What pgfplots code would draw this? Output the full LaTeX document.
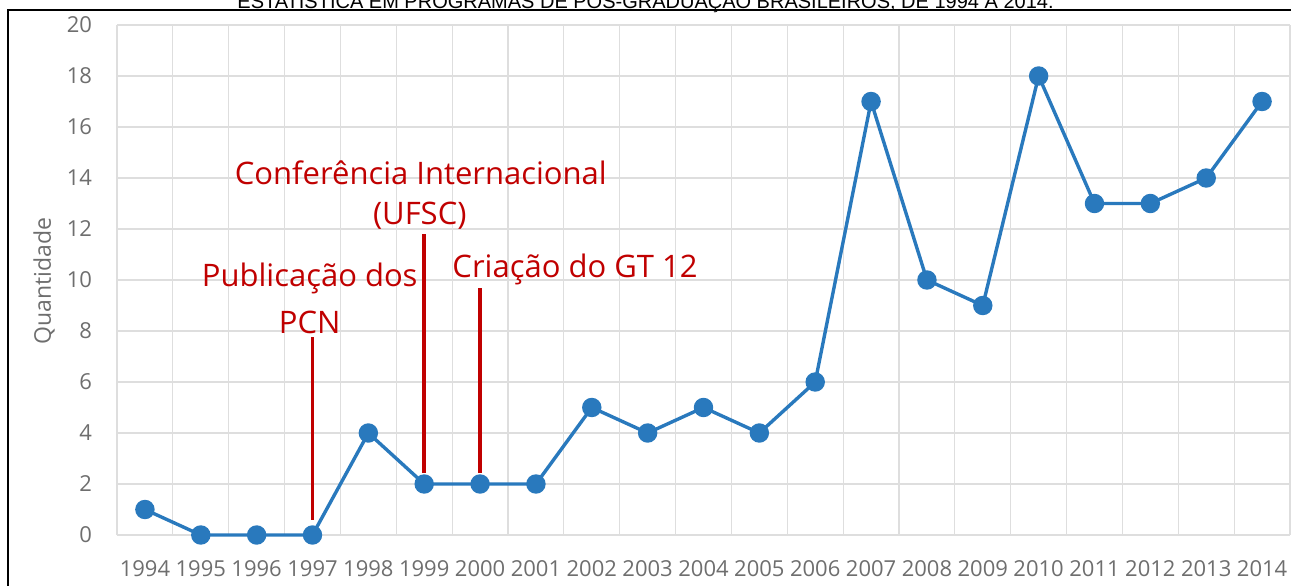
\documentclass[border=0pt]{standalone}
\usepackage{fontspec}
\setmainfont{Open Sans}
\newfontfamily\titlefont{Liberation Sans}
\usepackage{pgfplots}
\pgfplotsset{compat=1.18}
\definecolor{lineblue}{RGB}{41,121,189}
\definecolor{annred}{RGB}{192,0,0}
\definecolor{gridgray}{RGB}{222,222,222}
\definecolor{txtgray}{RGB}{110,110,110}
\begin{document}
\begin{tikzpicture}
\useasboundingbox (0,0) rectangle (645.5pt,292.5pt);
\clip (0,0) rectangle (645.5pt,292.5pt);
\node[font=\titlefont\fontsize{10}{12}\selectfont, anchor=base, inner sep=0] at (322.75pt,288.2pt) {ESTATÍSTICA EM PROGRAMAS DE PÓS-GRADUAÇÃO BRASILEIROS, DE 1994 A 2014.};
\begin{axis}[
  at={(58.5pt,25pt)}, anchor=south west,
  scale only axis, width=586.5pt, height=255pt,
  xmin=-0.5, xmax=20.5, ymin=0, ymax=20,
  xtick={0,1,2,3,4,5,6,7,8,9,10,11,12,13,14,15,16,17,18,19,20},
  xticklabels={1994,1995,1996,1997,1998,1999,2000,2001,2002,2003,2004,2005,2006,2007,2008,2009,2010,2011,2012,2013,2014},
  minor xtick={-0.5,0.5,1.5,2.5,3.5,4.5,5.5,6.5,7.5,8.5,9.5,10.5,11.5,12.5,13.5,14.5,15.5,16.5,17.5,18.5,19.5,20.5},
  ytick={0,2,4,6,8,10,12,14,16,18,20},
  xmajorgrids=false, xminorgrids=true, ymajorgrids=true,
  major grid style={gridgray, line width=0.6pt},
  minor grid style={gridgray, line width=0.6pt},
  axis line style={draw=none},
  major tick style={draw=none}, minor tick style={draw=none},
  tick label style={font=\fontsize{11}{13}\selectfont, text=txtgray},
  /pgf/number format/assume math mode=true,
  yticklabel style={xshift=-9pt},
  xticklabel style={yshift=-9pt},
  ylabel={Quantidade},
  ylabel style={at={(axis description cs:-0.0622,0.498)}, anchor=center, font=\fontsize{11.5}{13}\selectfont, text=txtgray},
  clip=false,
]
\addplot[lineblue, line width=1.7pt, mark=*, mark size=4pt, mark options={fill=lineblue, draw=lineblue}] coordinates {
(0,1) (1,0) (2,0) (3,0) (4,4) (5,2) (6,2) (7,2) (8,5) (9,4) (10,5)
(11,4) (12,6) (13,17) (14,10) (15,9) (16,18) (17,13) (18,13) (19,14) (20,17)};
\draw[annred, line width=1.75pt] (axis cs:3,0.59) -- (axis cs:3,7.76);
\draw[annred, line width=1.75pt] (axis cs:5,2.43) -- (axis cs:5,11.8);
\draw[annred, line width=1.75pt] (axis cs:6,2.43) -- (axis cs:6,9.69);
\node[annred, font=\fontsize{15.5}{18}\selectfont, anchor=base, inner sep=0] at (axis cs:4.94,13.76) {Conferência Internacional};
\node[annred, font=\fontsize{15.5}{18}\selectfont, anchor=base, inner sep=0] at (axis cs:4.92,12.16) {(UFSC)};
\node[annred, font=\fontsize{15.5}{18}\selectfont, anchor=base, inner sep=0] at (axis cs:2.95,9.73) {Publicação dos};
\node[annred, font=\fontsize{15.5}{18}\selectfont, anchor=base, inner sep=0] at (axis cs:2.95,7.9) {PCN};
\node[annred, font=\fontsize{15.5}{18}\selectfont, anchor=base, inner sep=0] at (axis cs:7.70,10.08) {Criação do GT 12};
\end{axis}
\draw[black, line width=1.2pt] (4pt,-20pt) rectangle (700pt,287.5pt);
\end{tikzpicture}
\end{document}
